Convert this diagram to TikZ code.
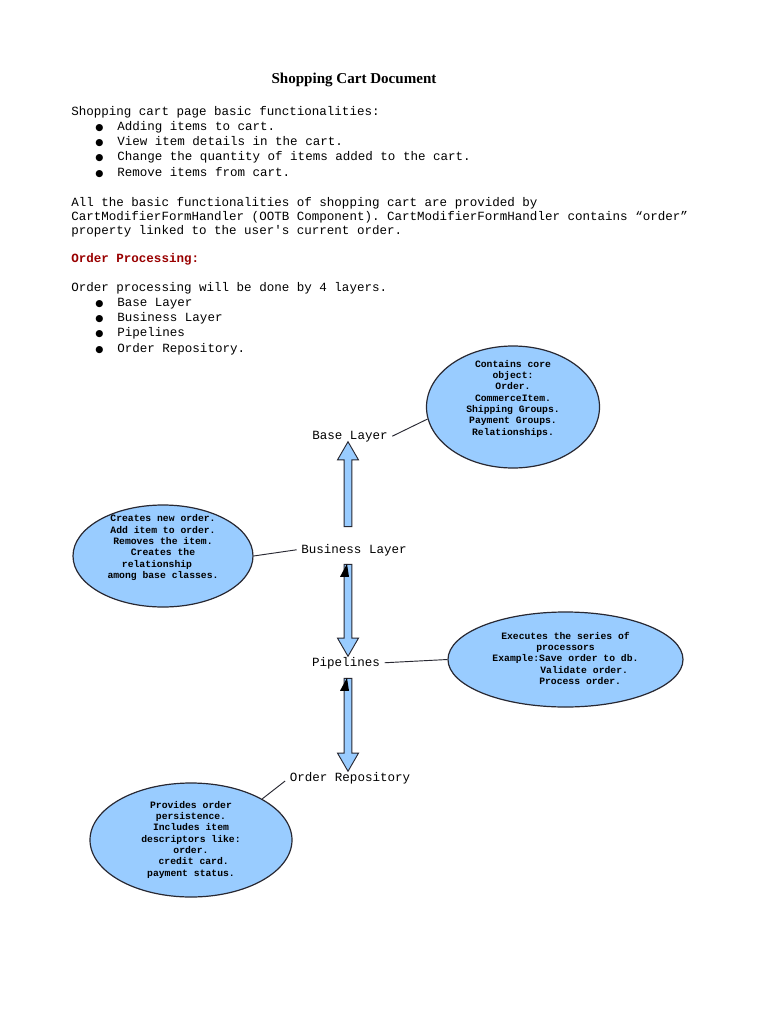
\documentclass[tikz,border=0pt]{standalone}
\usepackage{fontspec}
\setmainfont{Liberation Serif}
\setmonofont{Liberation Mono}
\newfontfamily\symfont{DejaVu Sans}
\usetikzlibrary{shapes.geometric,shapes.arrows}
\definecolor{ellblue}{RGB}{153,204,255}
\definecolor{ordred}{RGB}{153,0,0}
\definecolor{edgegray}{RGB}{40,40,50}
\newcommand{\bul}{\makebox[16.5pt][l]{\symfont\fontsize{7}{7}\selectfont ●}}
\newcommand{\lift}[2]{\raisebox{#1}[\height][\depth]{\begin{tabular}{@{}c@{}}#2\end{tabular}}}

\begin{document}
\begin{tikzpicture}[x=0.75pt,y=-0.75pt]
\tikzstyle {txt}=[font=\ttfamily\fontsize{9.4}{11.5}\selectfont, inner sep=0, anchor=base west, align=left]
\tikzstyle {lay}=[font=\ttfamily\fontsize{9.4}{11}\selectfont, anchor=base]
\tikzstyle {ell1}=[ellipse, draw=edgegray, fill=ellblue, line width=0.9pt, inner sep=0, font=\ttfamily\bfseries\fontsize{7.3}{8.5}\selectfont]
\tikzstyle {blk}=[single arrow, draw=edgegray, fill=ellblue, line width=0.7pt, inner xsep=0, inner ysep=2.5pt, single arrow head extend=5pt, single arrow tip angle=60]
\tikzstyle {link}=[draw=edgegray, line width=0.7pt]
\fill[white] (0,0) rectangle (768,1024);
\useasboundingbox (0,0) rectangle (768,1024);
% page text
\node (title) [font=\bfseries\fontsize{11.3}{13}\selectfont, anchor=base, inner sep=0] at (354,84) {Shopping Cart Document};
\node (intro) [txt] at (71,115) {Shopping cart page basic functionalities:};
\node (feat) [txt] at (95,176) {\bul Adding items to cart.\\\bul View item details in the cart.\\\bul Change the quantity of items added to the cart.\\\bul Remove items from cart.};
\node (para) [txt, font=\ttfamily\fontsize{9.4}{10.5}\selectfont] at (71,234) {All the basic functionalities of shopping cart are provided by\\CartModifierFormHandler (OOTB Component). CartModifierFormHandler contains “order”\\property linked to the user's current order.};
\node (ophead) [txt, font=\ttfamily\bfseries\fontsize{9.4}{11.5}\selectfont, text=ordred] at (71,262) {Order Processing:};
\node (opline) [txt] at (71,291) {Order processing will be done by 4 layers.};
\node (layers) [txt] at (95,352) {\bul Base Layer\\\bul Business Layer\\\bul Pipelines\\\bul Order Repository.};
% layers
\node (base) [lay] at (350,439) {Base Layer};
\node (bus) [lay] at (354,553) {Business Layer};
\node (pipe) [lay] at (346,666) {Pipelines};
\node (repo) [lay] at (350,781) {Order Repository};
% ellipses
\node (core) [ell1, minimum width=129.75pt, minimum height=91.5pt] at (513,407) {\lift{6pt}{Contains core\\object:\\Order.\\CommerceItem.\\Shipping Groups.\\Payment Groups.\\Relationships.}};
\node (crt) [ell1, minimum width=135pt, minimum height=76.5pt] at (163,556) {\lift{6pt}{Creates new order.\\Add item to order.\\Removes the item.\\Creates the\\relationship\hspace*{9pt}\\among base classes.}};
\node (exe) [ell1, minimum width=176.25pt, minimum height=71.25pt] at (565.5,659.5) {\lift{0pt}{Executes the series of\\processors\\Example:Save order to db.\\\hspace*{28pt}Validate order.\\\hspace*{22pt}Process order.}};
\node (prov) [ell1, minimum width=151.5pt, minimum height=85.5pt] at (191,840) {\lift{0pt}{Provides order\\persistence.\\Includes item\\descriptors like:\\order.\\\hspace*{4pt}credit card.\\payment status.}};
% block arrows
\node (up1) [blk, rotate=90, minimum height=63.75pt] at (348,487.5) {};
\node (dn1) [blk, rotate=270, minimum height=69pt] at (348,607) {};
\node (dn2) [blk, rotate=270, minimum height=69.75pt] at (348,721.5) {};
\fill (dn1.tail) ++(-1,0) -- +(-7,13) -- +(2,13) -- cycle;
\fill (dn2.tail) ++(-1,0) -- +(-7,13) -- +(2,13) -- cycle;
% links
\draw [link] (base.east) -- (core.188);
\draw [link] (bus.west) -- (crt.east);
\draw [link] (pipe.east) -- (exe.west);
\draw [link] (repo.base west) -- (prov.30);
\end{tikzpicture}
\end{document}
